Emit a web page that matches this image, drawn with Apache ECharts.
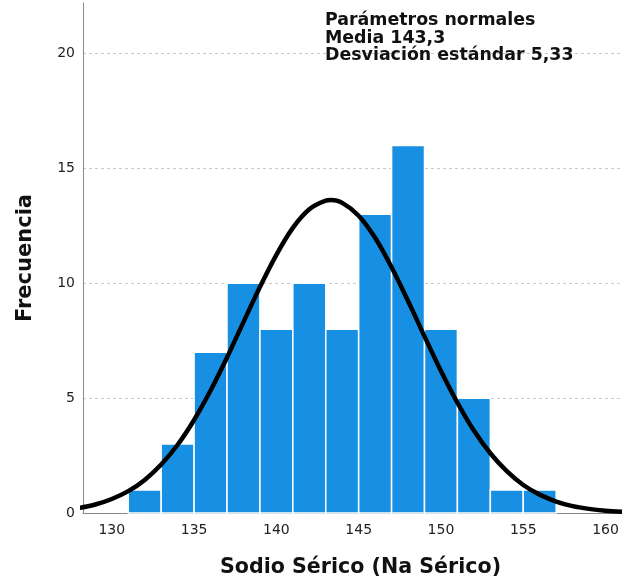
<!DOCTYPE html>
<html><head><meta charset="utf-8">
<script src="https://cdn.jsdelivr.net/npm/echarts@6/dist/echarts.min.js"></script>
<style>html,body{margin:0;padding:0;background:#fff}#c{width:624px;height:587px}</style>
</head><body><div id="c"></div>
<script>
// Histogram bins (start of each bin, width 2)
const binStarts = [131,133,135,137,139,141,143,145,147,149,151,153,155];
const binWidth = 2;
const counts = [1,3,7,10,8,10,8,13,16,8,5,1,1];
// Normal curve (mean 143.3, sd 5.33)
const curveX = [128,129,130,131,132,133,134,135,136,137,138,139,140,141,142,143,143.3,144,145,146,147,148,149,150,151,152,153,154,155,156,157,158,159,160,161];
const curveY = [0.22,0.37,0.61,0.95,1.44,2.11,2.97,4.05,5.33,6.77,8.31,9.84,11.24,12.41,13.22,13.60,13.62,13.50,12.94,11.98,10.70,9.23,7.69,6.18,4.80,3.59,2.60,1.82,1.22,0.80,0.50,0.30,0.18,0.10,0.05];
const xTicks = [130,135,140,145,150,155,160];
const yTicks = [0,5,10,15,20];
const annotation = ['Parámetros normales','Media 143,3','Desviación estándar 5,33'];
const xName = 'Sodio Sérico (Na Sérico)';
const yName = 'Frecuencia';

const barData = binStarts.map((s,i)=>[s, s+binWidth, counts[i]]);
const curveData = curveX.map((x,i)=>[x, curveY[i]]);

const chart = echarts.init(document.getElementById('c'), null, {renderer:'canvas'});
const font = 'DejaVu Sans';
const near = (v, list) => list.some(t => Math.abs(t - v) < 1e-6);
chart.setOption({
  animation:false,
  backgroundColor:'#fff',
  grid:{left:83, right:2, top:3, bottom:74},
  xAxis:{
    type:'value', min:128.25, max:161, interval:0.25,
    axisLine:{show:true, lineStyle:{color:'#888', width:1}},
    axisTick:{show:false},
    splitLine:{show:false},
    axisLabel:{color:'#222', fontSize:14, fontFamily:font, margin:10,
      showMinLabel:false, showMaxLabel:false,
      formatter:v=> near(v, xTicks) ? String(Math.round(v)) : ''},
    name:xName, nameLocation:'middle', nameGap:44,
    nameTextStyle:{color:'#111', fontSize:20.6, fontWeight:'bold', fontFamily:font, padding:[0,0,0,16]}
  },
  yAxis:{
    type:'value', min:0, max:22.2, interval:5,
    axisLine:{show:true, lineStyle:{color:'#888', width:1}},
    axisTick:{show:false},
    splitLine:{show:true, lineStyle:{color:['#c8c8c8','#c8c8c8','#c8c8c8','#c8c8c8','#c8c8c8','rgba(0,0,0,0)'], type:[3,3], width:1}},
    axisLabel:{color:'#222', fontSize:14, fontFamily:font, margin:8,
      formatter:v=> near(v, yTicks) ? String(Math.round(v)) : ''},
    name:yName, nameLocation:'middle', nameGap:47,
    nameTextStyle:{color:'#111', fontSize:21, fontWeight:'bold', fontFamily:font}
  },
  series:[
    {type:'custom', data:barData, z:2,
      renderItem:(params, api)=>{
        const p0 = api.coord([api.value(0), api.value(2)]);
        const p1 = api.coord([api.value(1), 0]);
        return {type:'rect', shape:{x:p0[0], y:p0[1], width:p1[0]-p0[0], height:p1[1]-p0[1]},
          style:{fill:'#1790e4', stroke:'#ffffff', lineWidth:1.5}};
      }},
    {type:'line', data:curveData, smooth:0.3, showSymbol:false, z:5, clip:true,
      lineStyle:{color:'#000', width:4.5}}
  ],
  graphic:[{type:'text', left:325, top:12, z:10,
    style:{text:annotation.join('\n'), font:'bold 17.4px "DejaVu Sans"', fill:'#111', lineHeight:17.5}}]
});
</script></body></html>
